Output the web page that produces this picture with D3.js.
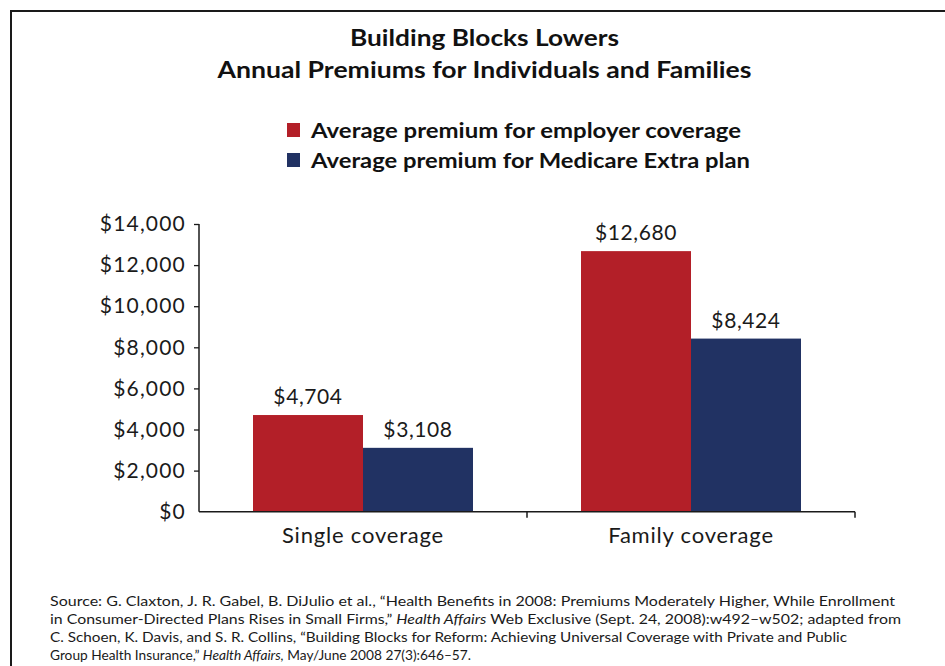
<!DOCTYPE html>
<html>
<head>
<meta charset="utf-8">
<script src="https://cdn.jsdelivr.net/npm/d3@7"></script>
<style>
  html, body { margin: 0; padding: 0; background: #fff; }
  svg { display: block; font-family: "Lato", "Open Sans", sans-serif; }
</style>
</head>
<body>
<svg id="chart" width="945" height="666"></svg>
<script>
// Chart data
const categories = ["Single coverage", "Family coverage"];
const seriesNames = ["Average premium for employer coverage", "Average premium for Medicare Extra plan"];
const employerValues = [4704, 12680];
const medicareValues = [3108, 8424];
const yTicks = [0, 2000, 4000, 6000, 8000, 10000, 12000, 14000];
const titleLines = ["Building Blocks Lowers", "Annual Premiums for Individuals and Families"];
const sourceLines = [
  [{t: "Source: G. Claxton, J. R. Gabel, B. DiJulio et al., \u201cHealth Benefits in 2008: Premiums Moderately Higher, While Enrollment"}],
  [{t: "in Consumer-Directed Plans Rises in Small Firms,\u201d "}, {t: "Health Affairs", i: true}, {t: " Web Exclusive (Sept. 24, 2008):w492\u2013w502; adapted from"}],
  [{t: "C. Schoen, K. Davis, and S. R. Collins, \u201cBuilding Blocks for Reform: Achieving Universal Coverage with Private and Public"}],
  [{t: "Group Health Insurance,\u201d "}, {t: "Health Affairs,", i: true}, {t: " May/June 2008 27(3):646\u201357."}]
];
const sourceWidths = [845, 851, 797, 421];

const colors = ["#b31f28", "#213263"];
const series = [employerValues, medicareValues];

const svg = d3.select("#chart");
const fmt = v => "$" + d3.format(",")(v);

// Outer frame
svg.append("rect")
  .attr("x", 11).attr("y", 11)
  .attr("width", 960).attr("height", 700)
  .attr("fill", "none").attr("stroke", "#1a1a1a").attr("stroke-width", 2);

// Title
svg.selectAll("text.title").data(titleLines).join("text")
  .attr("class", "title")
  .attr("x", 484.5)
  .attr("y", (d, i) => 46 + i * 32)
  .attr("text-anchor", "middle")
  .attr("font-size", 23)
  .attr("font-weight", "bold")
  .attr("fill", "#111")
  .attr("textLength", (d, i) => [269, 534][i])
  .attr("lengthAdjust", "spacingAndGlyphs")
  .text(d => d);

// Legend
const legend = svg.append("g");
seriesNames.forEach((name, i) => {
  legend.append("rect")
    .attr("x", 287).attr("y", 123 + i * 30)
    .attr("width", 13).attr("height", 14)
    .attr("fill", colors[i]);
  legend.append("text")
    .attr("x", 311).attr("y", 138 + i * 30)
    .attr("font-size", 21)
    .attr("font-weight", "bold")
    .attr("fill", "#111")
    .attr("textLength", [430, 439][i])
    .attr("lengthAdjust", "spacingAndGlyphs")
    .text(name);
});

// Scales
const x0 = d3.scaleBand().domain(categories).range([199, 855]).paddingInner(0).paddingOuter(0);
const groupWidth = 220;
const x1 = d3.scaleBand().domain(d3.range(series.length)).range([0, groupWidth]).padding(0);
const y = d3.scaleLinear().domain([0, 14000]).range([511.7, 224]);

// Bars
const groups = svg.append("g").selectAll("g").data(categories).join("g")
  .attr("transform", c => `translate(${x0(c) + (x0.bandwidth() - groupWidth) / 2},0)`);

groups.each(function(c, ci) {
  const g = d3.select(this);
  series.forEach((vals, si) => {
    g.append("rect")
      .attr("x", x1(si))
      .attr("y", y(vals[ci]))
      .attr("width", x1.bandwidth())
      .attr("height", y(0) - y(vals[ci]))
      .attr("fill", colors[si]);
    g.append("text")
      .attr("x", x1(si) + x1.bandwidth() / 2)
      .attr("y", y(vals[ci]) - 11)
      .attr("text-anchor", "middle")
      .attr("font-size", 21)
      .attr("letter-spacing", 0.6)
      .attr("fill", "#1a1a1a")
      .text(fmt(vals[ci]));
  });
});

// Y axis
const yAxis = d3.axisLeft(y).tickValues(yTicks).tickSize(5).tickPadding(8).tickFormat(fmt);
const yg = svg.append("g").attr("transform", "translate(199,0)").call(yAxis);
yg.select(".domain").attr("stroke", "#1a1a1a").attr("stroke-width", 1.5).attr("d", "M0,224V511.7");
yg.selectAll(".tick line").attr("stroke", "#1a1a1a").attr("stroke-width", 1.3);
yg.selectAll(".tick text")
  .attr("font-size", 21)
  .attr("font-family", "Lato, sans-serif")
  .attr("letter-spacing", 1.2)
  .attr("fill", "#1a1a1a");
yg.selectAll(".tick").filter(d => d === 0).select("line").remove();

// X axis with ticks at category boundaries
const xg = svg.append("g").attr("transform", "translate(0,511.7)");
xg.append("path").attr("d", "M199,0H855").attr("stroke", "#1a1a1a").attr("stroke-width", 1.5).attr("fill", "none");
const boundaries = categories.map(c => x0(c) + x0.bandwidth());
xg.selectAll("line.bt").data(boundaries).join("line")
  .attr("class", "bt")
  .attr("x1", d => d).attr("x2", d => d)
  .attr("y1", 0).attr("y2", 6)
  .attr("stroke", "#1a1a1a").attr("stroke-width", 1.5);
xg.selectAll("text.cat").data(categories).join("text")
  .attr("class", "cat")
  .attr("x", c => x0(c) + x0.bandwidth() / 2)
  .attr("y", 31)
  .attr("text-anchor", "middle")
  .attr("font-size", 22)
  .attr("letter-spacing", 0.8)
  .attr("fill", "#1a1a1a")
  .text(c => c);

// Source note
const src = svg.append("g");
sourceLines.forEach((parts, i) => {
  const t = src.append("text")
    .attr("x", 50).attr("y", 606 + i * 18)
    .attr("font-size", 14)
    .attr("fill", "#1a1a1a");
  if (sourceWidths[i]) t.attr("textLength", sourceWidths[i]).attr("lengthAdjust", "spacingAndGlyphs");
  parts.forEach(p => {
    t.append("tspan").attr("font-style", p.i ? "italic" : "normal").text(p.t);
  });
});
</script>
</body>
</html>
